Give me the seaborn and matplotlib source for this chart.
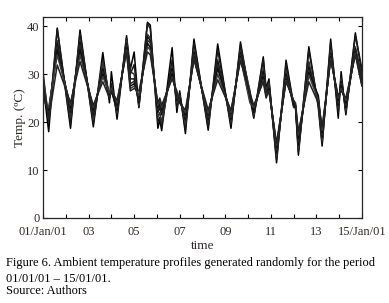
import matplotlib
matplotlib.use("Agg")
import matplotlib.pyplot as plt
import pandas as pd
import seaborn as sns

# key times (hours from 01/Jan/01 00:00)
HOURS = [0, 6, 15, 29, 39, 53, 63, 70, 72, 78, 88, 92, 96, 101, 110, 113,
         121, 123, 125, 136, 141, 144, 150, 159, 174, 184, 198, 208, 218, 222,
         232, 235, 238, 246, 256, 264, 266, 269, 280, 290, 294, 303, 311, 314,
         319, 329, 336]

# temperature profiles (ºC) read at the key times
PROFILE_1 = [28, 18, 39.6, 18.7, 39.2, 19, 34.5, 24, 30.5, 20.6, 38, 31, 34.6, 23, 40.8, 40.2,
             18.7, 20.5, 18.2, 35.5, 22, 26.5, 17.6, 37.3, 18.3, 36.3, 18.7, 36.7, 25, 20.8,
             33.6, 27, 29, 11.5, 32.9, 23.5, 23, 13.1, 35.7, 23, 15, 37.3, 20.8, 30.5,
             21.5, 38.6, 30]
PROFILE_2 = [30.5, 20, 39.4, 19.5, 38.5, 19.8, 33, 25, 28, 21.5, 37.5, 30, 32, 23.2, 40.5, 39.5,
             20, 21, 19, 33, 23, 26, 18.5, 36.5, 19, 35, 19.5, 36, 26, 21.2,
             33, 26.5, 28.5, 12.2, 32, 23.5, 23.5, 13.8, 35, 23.5, 15.6, 36.5, 22, 29.5,
             22, 38, 31]
PROFILE_3 = [29.5, 21, 37, 21, 37.2, 20.5, 32.5, 25.5, 27, 22, 37, 30.5, 30, 23.5, 38.3, 37.5,
             21, 22, 20, 31.5, 24, 25.5, 19.5, 35, 20, 33, 20, 35, 26.5, 21.5,
             31.2, 26.5, 28, 12.8, 30.8, 23, 23.2, 14.5, 32.6, 24, 16.2, 35, 23, 29,
             22.5, 35.7, 29.5]
PROFILE_4 = [27, 21.5, 36.4, 22, 36.6, 21.5, 31.2, 25, 26.5, 22.5, 36.4, 29, 29, 24, 37.8, 37,
             22, 23, 21.5, 31.2, 24.5, 25, 20.5, 34.5, 20.5, 32.6, 20.5, 34.5, 25.5, 22,
             30.5, 26, 27.5, 13.5, 30, 23.5, 23, 15.2, 31.5, 24.5, 16.8, 34.3, 23.5, 28.5,
             23, 35.3, 28.5]
PROFILE_5 = [26, 22, 35.7, 22.5, 36, 22, 30.5, 26, 27, 23, 36, 28, 28.5, 24.5, 37.1, 36.5,
             22.5, 23.5, 22, 30.5, 25, 24.5, 21, 34, 21, 31.9, 21, 34, 25, 22.5,
             29.8, 26, 27.5, 14.2, 29.4, 24, 23.5, 16, 30.8, 25, 17.3, 34, 24, 28,
             23.5, 35, 29]
PROFILE_6 = [25, 22.5, 35, 23, 35, 22.5, 30, 25.5, 26.5, 23.5, 35.5, 27.5, 28, 25, 36.5, 35.5,
             23, 24, 22.5, 30, 25.5, 24.5, 21.5, 33.5, 21.5, 31.2, 21.8, 33.6, 24.5, 22.5,
             29.4, 25.5, 27, 14.8, 29, 24, 23, 16.6, 30.3, 25.5, 17.8, 33.6, 24.5, 27.5,
             24, 34.6, 28]
PROFILE_7 = [24.5, 23, 34, 23.5, 34, 23, 29.5, 26, 27, 24, 35, 27, 27.5, 25.5, 35.7, 35,
             23.5, 24.5, 23, 29.4, 26, 24, 22, 33.3, 21.8, 30, 22, 33.3, 24, 23,
             28.8, 25.5, 26.5, 15.2, 28.7, 24.5, 24, 17.3, 29.8, 24.5, 18.3, 33.2, 25, 27,
             24.5, 34.3, 27.5]
PROFILE_8 = [27.5, 20.5, 31.9, 24, 32.6, 23.5, 28.4, 25, 26.5, 24.5, 34.5, 26.5, 27, 26.5, 34.6, 34,
             24, 25, 23.5, 29, 26.5, 24, 22.5, 33, 22.5, 28.8, 22.5, 32.8, 26, 23.5,
             28.4, 25, 26.5, 15.6, 28.4, 24.5, 23.5, 18, 28.4, 24, 19, 32.9, 25.5, 26.5,
             25, 34, 27.5]
PROFILES = [PROFILE_1, PROFILE_2, PROFILE_3, PROFILE_4,
            PROFILE_5, PROFILE_6, PROFILE_7, PROFILE_8]

TICK_DAYS = [1, 3, 5, 7, 9, 11, 13, 15]
TICK_LABELS = ["01/Jan/01", "03", "05", "07", "09", "11", "13", "15/Jan/01"]
Y_TICKS = [0, 10, 20, 30, 40]

CAPTION = ["Figure 6. Ambient temperature profiles generated randomly for the period",
           "01/01/01 \u2013 15/01/01.",
           "Source: Authors"]

sns.set_style("ticks")
plt.rcParams["font.family"] = ["Liberation Serif", "DejaVu Serif"]
plt.rcParams["font.size"] = 9

rows = []
for i, prof in enumerate(PROFILES):
    for h, t in zip(HOURS, prof):
        rows.append({"day": 1 + h / 24, "temp": t, "profile": f"p{i + 1}"})
df = pd.DataFrame(rows)

W, H = 389, 303
fig = plt.figure(figsize=(W / 100, H / 100), dpi=100)
ax = fig.add_axes([43 / W, 1 - 218 / H, (362 - 43) / W, (218 - 17) / H])

palette = ["#000000", "#1a1a1a", "#333333", "#111111",
           "#2a2a2a", "#0d0d0d", "#3a3a3a", "#222222"]
sns.lineplot(data=df, x="day", y="temp", hue="profile", palette=palette,
             legend=False, linewidth=1.1, estimator=None, ax=ax)
for ln in ax.get_lines():
    ln.set_solid_joinstyle("round")

ax.set_xlim(1, 15)
ax.set_ylim(0, 41.9)
ax.set_xticks(TICK_DAYS)
ax.set_xticklabels(TICK_LABELS)
ax.set_xticks(range(1, 16), minor=True)
ax.set_yticks(Y_TICKS)

txt_color = "#2e2a26"
ax.tick_params(which="both", direction="in", top=True, right=True,
               length=3, width=0.8, colors="black", labelcolor=txt_color,
               labelsize=9)
ax.tick_params(axis="x", pad=5.5)
ax.tick_params(axis="y", pad=2.5)
for s in ax.spines.values():
    s.set_linewidth(0.9)
    s.set_visible(True)

ax.set_xlabel("time", color=txt_color, labelpad=2, fontsize=9.5)
ax.set_ylabel("Temp. (\u00baC)", color=txt_color, labelpad=1, fontsize=9.5)

for txt, yb in zip(CAPTION, [266, 282.5, 294.5]):
    fig.text(6 / W, 1 - yb / H, txt, fontsize=9, va="baseline", ha="left", color="black")

fig.savefig("out.png", dpi=100)
